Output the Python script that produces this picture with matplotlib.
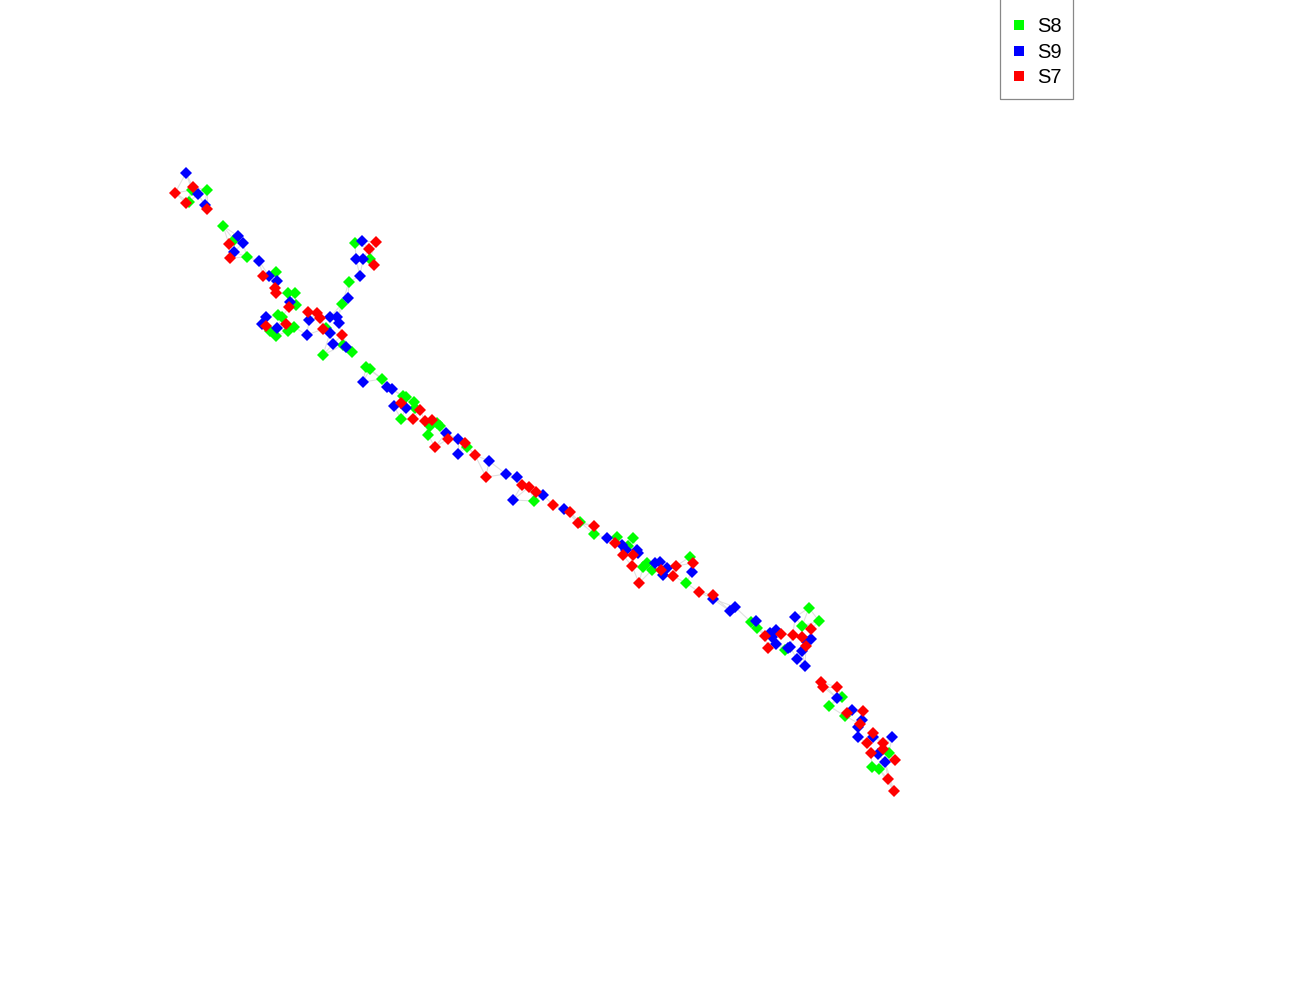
import numpy as np
import matplotlib.pyplot as plt
from matplotlib.patches import Rectangle

# point positions (pixel-like units, y grows downward)
s8_pts = [(192,190),(207,190),(189,202),(223,226),(234,240),(247,257),(276,272),(288,293),(295,293),(296,305),
          (355,243),(370,259),(349,282),(342,304),(326,328),(343,345),(352,352),(323,355),(278,315),(270,331),
          (288,331),(294,327),(276,336),(282,317),(366,367),(370,369),(382,379),(403,396),(406,397),(414,402),
          (415,408),(401,419),(437,423),(430,426),(440,426),(428,435),(467,447),(534,501),(580,522),(594,534),
          (617,537),(633,538),(628,546),(643,567),(647,563),(652,570),(690,557),(686,583),(809,608),(819,621),
          (751,622),(757,628),(802,626),(785,650),(842,697),(829,706),(845,716),(889,753),(872,767),(879,769)]
s9_pts = [(186,173),(198,194),(205,205),(238,236),(243,243),(234,252),(259,261),(269,276),(277,281),(290,302),
          (362,241),(356,259),(363,259),(360,276),(348,298),(309,320),(330,317),(337,317),(339,323),(330,333),
          (333,344),(346,347),(307,335),(266,317),(262,324),(277,328),(363,382),(387,387),(392,389),(394,406),
          (406,408),(446,433),(458,439),(458,454),(489,461),(506,474),(517,477),(543,495),(513,500),(564,509),
          (607,538),(622,545),(626,550),(637,550),(638,553),(655,563),(660,562),(667,568),(663,575),(692,572),
          (713,599),(735,607),(730,611),(795,617),(756,621),(776,630),(770,633),(772,637),(811,639),(807,642),
          (776,644),(790,647),(788,648),(802,651),(797,659),(805,666),(837,698),(852,710),(862,720),(858,727),
          (873,737),(858,737),(892,737),(878,754),(885,762)]
s7_pts = [(175,193),(193,187),(186,203),(207,209),(229,244),(230,258),(263,276),(275,288),(276,293),(289,307),
          (376,242),(369,249),(374,265),(308,312),(317,313),(320,318),(323,329),(342,335),(266,326),(286,324),
          (401,403),(420,410),(413,419),(425,421),(432,420),(448,439),(465,443),(435,447),(475,455),(486,477),
          (522,485),(529,487),(536,492),(553,505),(570,512),(578,523),(594,526),(615,543),(623,555),(633,555),
          (632,566),(661,570),(676,566),(673,576),(693,563),(639,583),(699,592),(713,595),(765,636),(781,634),
          (793,635),(802,637),(811,629),(768,648),(806,646),(821,682),(823,687),(837,687),(847,713),(863,711),
          (860,724),(873,733),(867,743),(883,743),(883,749),(871,753),(895,760),(888,779),(894,791)]

series = [("S8", s8_pts, "#00ff00"), ("S9", s9_pts, "#0000ff"), ("S7", s7_pts, "#ff0000")]

fig = plt.figure(figsize=(13, 10), dpi=100)
ax = fig.add_axes([0, 0, 1, 1])
ax.set_xlim(0, 1300)
ax.set_ylim(1000, 0)
ax.axis("off")

# faint links: every point to its 3 nearest neighbours
allp = np.array(s8_pts + s9_pts + s7_pts, dtype=float)
d = np.sqrt(((allp[:, None, :] - allp[None, :, :]) ** 2).sum(-1))
np.fill_diagonal(d, np.inf)
segs = set()
for i in range(len(allp)):
    for j in np.argsort(d[i])[:3]:
        segs.add((min(i, j), max(i, j)))
for i, j in segs:
    ax.plot([allp[i, 0], allp[j, 0]], [allp[i, 1], allp[j, 1]],
            color="#d8d8d8", lw=0.8, alpha=0.8, zorder=1)

for name, pts, col in series:
    xs = [p[0] for p in pts]
    ys = [p[1] for p in pts]
    ax.plot(xs, ys, "D", color=col, ms=6.3, mew=0, ls="none", zorder=3)

# legend box
fig.patches.append(Rectangle((1000 / 1300, 1 - 99 / 1000), 73 / 1300, 99 / 1000 + 0.01,
                             transform=fig.transFigure, fill=False, edgecolor="#888888", lw=0.9))
handles = [plt.Line2D([], [], marker="s", color=col, ls="none", ms=7.5, mew=0) for _, _, col in series]
leg = fig.legend(handles, [s[0] for s in series], loc="upper left",
                 bbox_to_anchor=(1009 / 1300, 1 - 17 / 1000), frameon=False,
                 prop={"family": "Liberation Sans", "size": 14.5},
                 handletextpad=0.42, handlelength=0.97, borderpad=0, labelspacing=0.33,
                 borderaxespad=0)

fig.savefig("out.png", dpi=100)
